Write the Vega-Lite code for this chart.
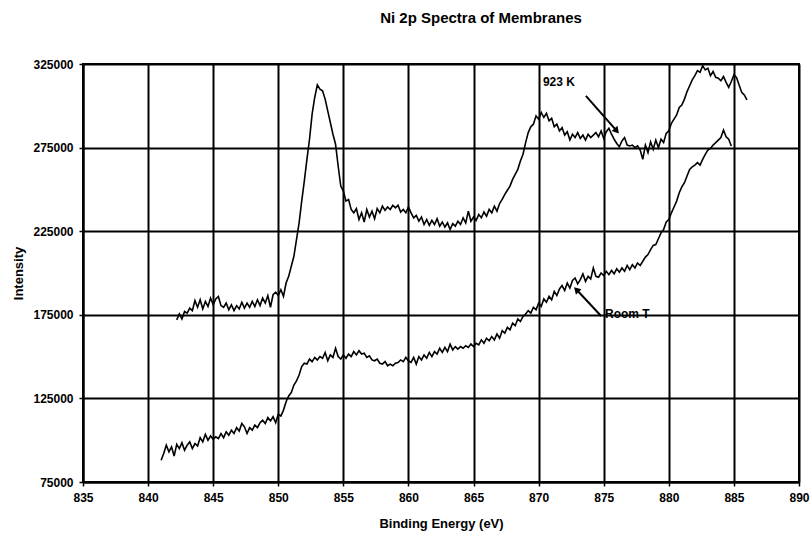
{
"$schema":"https://vega.github.io/schema/vega-lite/v6.json",
"autosize":"none",
"width":716,"height":418,
"padding":{"left":83,"top":64,"right":11,"bottom":51},
"background":"white",
"config":{"font":"Liberation Sans","view":{"stroke":"black","strokeWidth":2}},
"title":{"text":"Ni 2p Spectra of Membranes","fontSize":15,"fontWeight":"bold","font":"Liberation Sans","color":"black","anchor":"middle","dx":40,"offset":32},
"datasets":{
"hot":[
[842.2,172000],[842.4,175500],[842.6,172500],[842.8,177000],[843.0,176000],[843.2,179000],[843.4,177500],[843.6,183500],[843.8,179500],[844.0,184000],[844.2,178500],[844.4,183000],[844.6,180000],[844.8,185000],[845.0,181000],[845.2,184500],[845.4,186000],[845.6,180500],[845.8,179500],[846.0,182000],[846.2,178000],[846.4,181000],[846.6,177500],[846.8,180500],[847.0,178500],[847.2,182500],[847.4,179000],[847.6,182000],[847.8,179500],[848.0,183000],[848.2,180000],[848.4,184000],[848.6,180500],[848.8,185000],[849.0,182000],[849.2,186500],[849.4,179500],[849.6,187000],[849.8,188500],[850.0,186500],[850.2,190000],[850.4,186000],[850.6,194000],[850.8,198000],[851.0,204000],[851.2,210000],[851.4,220000],[851.6,230000],[851.8,243000],[852.0,255000],[852.2,268000],[852.4,280000],[852.6,295000],[852.8,305000],[853.0,312500],[853.2,310000],[853.4,309000],[853.6,304000],[853.8,297000],[854.0,290000],[854.2,283000],[854.4,277000],[854.6,264000],[854.8,252000],[855.0,249000],[855.2,243000],[855.4,244000],[855.6,238000],[855.8,236000],[856.0,238500],[856.2,232000],[856.4,236000],[856.6,230500],[856.8,238000],[857.0,233500],[857.2,237000],[857.4,232500],[857.6,238500],[857.8,236000],[858.0,240000],[858.2,237500],[858.4,239500],[858.6,238000],[858.8,240500],[859.0,239000],[859.2,240500],[859.4,236500],[859.6,238000],[859.8,236000],[860.0,239500],[860.2,236000],[860.4,233000],[860.6,234500],[860.8,231000],[861.0,233500],[861.2,229000],[861.4,232000],[861.6,228500],[861.8,231500],[862.0,229000],[862.2,232500],[862.4,228000],[862.6,230500],[862.8,227500],[863.0,230000],[863.2,226000],[863.4,229500],[863.6,228000],[863.8,231000],[864.0,229000],[864.2,233000],[864.4,230000],[864.6,237000],[864.8,231000],[865.0,233500],[865.2,231500],[865.4,235000],[865.6,233000],[865.8,236500],[866.0,234000],[866.2,238000],[866.4,236000],[866.6,240000],[866.8,237000],[867.0,241500],[867.2,244000],[867.4,247000],[867.6,249500],[867.8,252000],[868.0,256000],[868.2,259000],[868.4,262000],[868.6,267000],[868.8,271000],[869.0,278000],[869.2,284000],[869.4,287500],[869.6,289000],[869.8,294000],[870.0,292000],[870.2,296000],[870.4,293000],[870.6,295500],[870.8,291000],[871.0,292500],[871.2,287500],[871.4,289000],[871.6,285000],[871.8,287000],[872.0,282500],[872.2,284500],[872.4,279500],[872.6,283000],[872.8,281000],[873.0,284000],[873.2,280500],[873.4,282500],[873.6,279500],[873.8,283000],[874.0,281000],[874.2,282500],[874.4,284000],[874.6,281500],[874.8,285000],[875.0,280500],[875.2,284500],[875.4,286500],[875.6,283000],[875.8,280000],[876.0,277500],[876.2,275500],[876.4,279000],[876.6,281000],[876.8,276500],[877.0,276000],[877.2,276500],[877.4,275000],[877.6,276000],[877.8,273500],[878.0,268000],[878.2,276500],[878.4,272000],[878.6,278500],[878.8,274000],[879.0,279500],[879.2,275000],[879.4,280000],[879.6,278000],[879.8,283500],[880.0,285000],[880.2,289500],[880.4,292000],[880.6,294500],[880.8,299000],[881.0,300500],[881.2,304000],[881.4,308500],[881.6,312000],[881.8,315500],[882.0,318000],[882.2,321000],[882.4,320000],[882.6,324000],[882.8,321500],[883.0,322500],[883.2,318000],[883.4,320500],[883.6,317000],[883.8,316500],[884.0,315000],[884.2,317500],[884.4,314000],[884.6,311000],[884.8,314500],[885.0,318500],[885.2,317000],[885.4,312500],[885.6,308000],[885.8,306500],[886.0,303500]
],
"room":[
[841.0,88000],[841.2,92000],[841.4,97000],[841.6,93000],[841.8,96000],[842.0,90500],[842.2,97500],[842.4,95000],[842.6,98500],[842.8,94000],[843.0,97000],[843.2,99000],[843.4,95000],[843.6,98000],[843.8,96500],[844.0,101500],[844.2,99000],[844.4,103500],[844.6,100000],[844.8,102500],[845.0,100500],[845.2,102000],[845.4,101000],[845.6,104000],[845.8,101500],[846.0,105000],[846.2,103000],[846.4,106000],[846.6,104000],[846.8,107500],[847.0,105500],[847.2,110000],[847.4,108000],[847.6,104000],[847.8,107500],[848.0,106000],[848.2,109000],[848.4,107500],[848.6,110500],[848.8,112000],[849.0,110000],[849.2,113500],[849.4,111500],[849.6,114000],[849.8,110500],[850.0,115500],[850.2,114500],[850.4,118000],[850.6,123000],[850.8,126500],[851.0,128500],[851.2,133000],[851.4,135500],[851.6,139000],[851.8,144000],[852.0,146000],[852.2,145500],[852.4,148500],[852.6,147000],[852.8,149500],[853.0,148000],[853.2,150000],[853.4,149000],[853.6,152500],[853.8,147500],[854.0,151000],[854.2,149500],[854.4,155000],[854.6,150000],[854.8,148500],[855.0,151000],[855.2,149000],[855.4,151500],[855.6,150000],[855.8,153000],[856.0,151000],[856.2,153500],[856.4,151500],[856.6,152000],[856.8,149500],[857.0,150500],[857.2,148000],[857.4,147500],[857.6,148500],[857.8,146000],[858.0,145500],[858.2,147000],[858.4,144500],[858.6,145500],[858.8,144500],[859.0,146000],[859.2,146500],[859.4,148000],[859.6,147000],[859.8,149500],[860.0,147500],[860.2,146500],[860.4,149500],[860.6,145500],[860.8,150000],[861.0,148000],[861.2,151000],[861.4,149000],[861.6,152500],[861.8,150000],[862.0,153000],[862.2,151500],[862.4,155000],[862.6,152500],[862.8,155500],[863.0,153000],[863.2,157500],[863.4,154000],[863.6,156000],[863.8,154500],[864.0,156000],[864.2,155000],[864.4,156500],[864.6,155500],[864.8,157500],[865.0,156000],[865.2,158000],[865.4,157000],[865.6,160000],[865.8,158000],[866.0,161000],[866.2,159500],[866.4,162000],[866.6,160000],[866.8,163500],[867.0,161000],[867.2,165500],[867.4,164000],[867.6,167500],[867.8,166000],[868.0,170000],[868.2,168500],[868.4,172500],[868.6,171000],[868.8,174000],[869.0,175500],[869.2,177500],[869.4,176000],[869.6,179500],[869.8,178000],[870.0,182000],[870.2,180000],[870.4,184500],[870.6,182500],[870.8,186000],[871.0,184000],[871.2,189000],[871.4,186500],[871.6,190500],[871.8,192500],[872.0,189500],[872.2,194000],[872.4,191000],[872.6,195500],[872.8,197000],[873.0,193500],[873.2,196000],[873.4,199500],[873.6,195000],[873.8,198000],[874.0,196500],[874.2,203000],[874.4,198000],[874.6,197500],[874.8,200000],[875.0,198500],[875.2,201000],[875.4,199000],[875.6,201500],[875.8,199500],[876.0,202500],[876.2,200500],[876.4,203000],[876.6,201000],[876.8,204500],[877.0,202000],[877.2,205000],[877.4,203000],[877.6,206000],[877.8,204500],[878.0,207000],[878.2,209500],[878.4,211000],[878.6,214000],[878.8,216500],[879.0,217000],[879.2,220500],[879.4,224000],[879.6,226000],[879.8,230500],[880.0,232000],[880.2,236000],[880.4,239500],[880.6,243000],[880.8,248000],[881.0,251500],[881.2,254000],[881.4,258000],[881.6,262000],[881.8,263500],[882.0,264500],[882.2,266000],[882.4,264500],[882.6,268000],[882.8,271000],[883.0,273500],[883.2,274500],[883.4,276500],[883.6,278000],[883.8,279500],[884.0,281000],[884.2,285500],[884.4,281500],[884.6,280000],[884.8,276000]
],
"notes":[
{"label":"923 K","tx":870.33,"ty":314200,"x1":873.63,"y1":305900,"x2":876.0,"y2":285000,"ang":139},
{"label":"Room T","tx":875.1,"ty":175500,"x1":874.8,"y1":174300,"x2":872.9,"y2":190100,"ang":316}
]
},
"layer":[
{"data":{"name":"hot"},
 "transform":[{"calculate":"datum[0]","as":"e"},{"calculate":"datum[1]","as":"i"}],
 "mark":{"type":"line","color":"black","strokeWidth":1.6,"clip":true},
 "encoding":{
  "x":{"field":"e","type":"quantitative","scale":{"domain":[835,890],"nice":false,"zero":false},
   "axis":{"values":[835,840,845,850,855,860,865,870,875,880,885,890],"title":"Binding Energy (eV)","grid":true,"gridColor":"black","gridWidth":2,"gridOpacity":1,"domainColor":"black","domainWidth":2,"tickColor":"black","tickSize":4,"tickWidth":1.5,"labelFont":"Liberation Sans","labelFontSize":12,"labelFontWeight":"bold","labelColor":"black","labelPadding":6,"labelFlush":false,"titleFont":"Liberation Sans","titleFontSize":13,"titleFontWeight":"bold","titleColor":"black","titleY":41,"titleBaseline":"middle"}},
  "y":{"field":"i","type":"quantitative","scale":{"domain":[75000,325000],"nice":false,"zero":false},
   "axis":{"values":[75000,125000,175000,225000,275000,325000],"format":"d","title":"Intensity","grid":true,"gridColor":"black","gridWidth":2,"gridOpacity":1,"domainColor":"black","domainWidth":2,"tickColor":"black","tickSize":4,"tickWidth":1.5,"labelFont":"Liberation Sans","labelFontSize":12,"labelFontWeight":"bold","labelColor":"black","labelPadding":6,"labelFlush":false,"titleFont":"Liberation Sans","titleFontSize":13,"titleFontWeight":"bold","titleColor":"black","titleX":-65,"titleY":209,"titleBaseline":"middle"}}
 }},
{"data":{"name":"room"},
 "transform":[{"calculate":"datum[0]","as":"e"},{"calculate":"datum[1]","as":"i"}],
 "mark":{"type":"line","color":"black","strokeWidth":1.6,"clip":true},
 "encoding":{"x":{"field":"e","type":"quantitative"},"y":{"field":"i","type":"quantitative"}}},
{"data":{"name":"notes"},
 "mark":{"type":"text","align":"left","baseline":"middle","font":"Liberation Sans","fontSize":12,"fontWeight":"bold","color":"black"},
 "encoding":{"x":{"field":"tx","type":"quantitative"},"y":{"field":"ty","type":"quantitative"},"text":{"field":"label"}}},
{"data":{"name":"notes"},
 "mark":{"type":"rule","color":"black","strokeWidth":2},
 "encoding":{"x":{"field":"x1","type":"quantitative"},"y":{"field":"y1","type":"quantitative"},"x2":{"field":"x2"},"y2":{"field":"y2"}}},
{"data":{"name":"notes"},
 "mark":{"type":"point","shape":"triangle-up","filled":true,"color":"black","size":60,"opacity":1},
 "encoding":{"x":{"field":"x2","type":"quantitative"},"y":{"field":"y2","type":"quantitative"},"angle":{"field":"ang","type":"quantitative","scale":null}}}
]
}
